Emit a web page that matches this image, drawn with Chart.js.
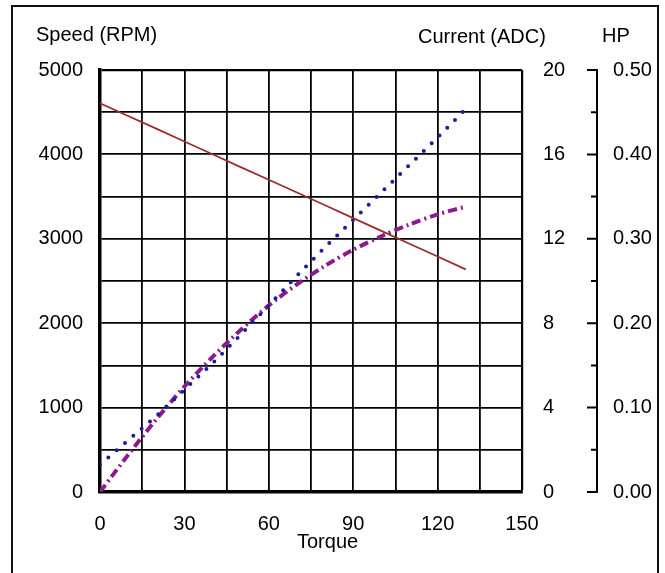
<!DOCTYPE html>
<html>
<head>
<meta charset="utf-8">
<script src="https://cdn.jsdelivr.net/npm/chart.js@4.4.0/dist/chart.umd.min.js"></script>
<style>
  html, body { margin: 0; padding: 0; background: #fff; overflow: hidden; }
  #wrap { position: relative; width: 665px; height: 573px; }
</style>
</head>
<body>
<div id="wrap"><canvas id="motor"></canvas></div>
<script>
// values
const torque = [0, 10, 20, 30, 40, 50, 60, 70, 80, 90, 100, 110, 120, 130];
const speedRpm = [4605, 4455, 4305, 4153, 4002, 3850, 3700, 3548, 3397, 3245, 3094, 2942, 2790, 2638];
const currentAdc = [1.3, 2.45, 3.6, 4.85, 6.1, 7.45, 8.85, 10.25, 11.6, 12.9, 14.2, 15.5, 16.8, 18.15];
const horsepower = [0, 0.044, 0.086, 0.125, 0.16, 0.192, 0.221, 0.246, 0.268, 0.287, 0.303, 0.317, 0.329, 0.338];

const xTicks = [0, 30, 60, 90, 120, 150];
const speedTicks = [0, 1000, 2000, 3000, 4000, 5000];
const hpTicks = [0, 0.1, 0.2, 0.3, 0.4, 0.5];

Chart.defaults.font.family = '"Liberation Sans", Arial, sans-serif';
Chart.defaults.font.size = 20;
Chart.defaults.color = '#000';

function points(ys) {
  return torque.map((t, i) => ({ x: t, y: ys[i] }));
}

// header texts, outer frame and the bracket style HP axis
const decorations = {
  id: 'decorations',
  beforeDraw(chart) {
    const ctx = chart.ctx;
    ctx.save();
    ctx.strokeStyle = '#111';
    ctx.lineWidth = 2;
    ctx.strokeRect(12, 6, 646, 700);
    ctx.restore();
  },
  afterDraw(chart) {
    const ctx = chart.ctx;
    ctx.save();
    ctx.fillStyle = '#000';
    ctx.font = '20px "Liberation Sans", Arial, sans-serif';
    ctx.textBaseline = 'alphabetic';
    ctx.textAlign = 'left';
    ctx.fillText('Speed (RPM)', 36, 40.5);
    ctx.fillText('Current (ADC)', 418, 43);
    ctx.fillText('HP', 602, 42);
    ctx.fillText('Torque', 297, 548);

    const hp = chart.scales.y2;
    const lx = hp.left + 10;
    ctx.strokeStyle = '#000';
    ctx.lineWidth = 2;
    ctx.beginPath();
    ctx.moveTo(lx, hp.getPixelForValue(0) + 1);
    ctx.lineTo(lx, hp.getPixelForValue(0.5) - 1);
    hp.ticks.forEach(t => {
      const major = Math.round(t.value * 100) % 10 === 0;
      const py = hp.getPixelForValue(t.value);
      ctx.moveTo(lx, py);
      ctx.lineTo(lx - (major ? 10 : 6), py);
    });
    ctx.stroke();
    ctx.restore();
  }
};

new Chart(document.getElementById('motor'), {
  type: 'line',
  data: {
    datasets: [
      {
        label: 'Speed (RPM)',
        data: points(speedRpm),
        yAxisID: 'y',
        borderColor: '#9b2d2d',
        borderWidth: 1.8,
        pointRadius: 0,
        tension: 0
      },
      {
        label: 'Current (ADC)',
        data: points(currentAdc),
        yAxisID: 'y1',
        borderColor: '#1c1c9c',
        borderWidth: 4,
        borderDash: [0, 11],
        borderCapStyle: 'round',
        pointRadius: 0,
        tension: 0
      },
      {
        label: 'HP',
        data: points(horsepower),
        yAxisID: 'y2',
        borderColor: '#8b1a8b',
        borderWidth: 4,
        borderDash: [9, 4, 2, 4],
        pointRadius: 0,
        tension: 0.3
      }
    ]
  },
  options: {
    responsive: true,
    maintainAspectRatio: false,
    animation: false,
    layout: { padding: { top: 70, left: 0, right: 0, bottom: 0 } },
    plugins: { legend: { display: false }, tooltip: { enabled: false } },
    scales: {
      x: {
        type: 'linear',
        min: 0,
        max: 150,
        ticks: {
          stepSize: 15,
          padding: 20,
          maxRotation: 0,
          autoSkip: false,
          callback: v => xTicks.includes(v) ? v : ''
        },
        grid: {
          color: '#000',
          lineWidth: c => c.tick && c.tick.value === 150 ? 2.2 : 1.8,
          drawTicks: false
        },
        border: { display: true, color: '#000', width: 3.5 },
        afterFit: s => { s.height = 81; }
      },
      y: {
        position: 'left',
        min: 0,
        max: 5000,
        ticks: {
          stepSize: 500,
          padding: 17,
          autoSkip: false,
          callback: v => speedTicks.includes(v) ? v : ''
        },
        grid: {
          color: '#000',
          lineWidth: c => c.tick && c.tick.value === 5000 ? 2.2 : 1.8,
          drawTicks: false
        },
        border: { display: true, color: '#000', width: 3.5 },
        afterFit: s => { s.width = 100; }
      },
      y1: {
        position: 'right',
        weight: 1,
        min: 0,
        max: 20,
        ticks: { stepSize: 4, padding: 21, autoSkip: false },
        grid: { display: false, drawTicks: false },
        border: { display: false },
        afterFit: s => { s.width = 65; }
      },
      y2: {
        position: 'right',
        weight: 2,
        min: 0,
        max: 0.5,
        ticks: {
          stepSize: 0.05,
          padding: 26,
          autoSkip: false,
          callback: v => hpTicks.some(h => Math.abs(h - v) < 1e-6) ? v.toFixed(2) : ''
        },
        grid: { display: false, drawTicks: false },
        border: { display: false },
        afterFit: s => { s.width = 78; }
      }
    }
  },
  plugins: [decorations]
});
</script>
</body>
</html>
